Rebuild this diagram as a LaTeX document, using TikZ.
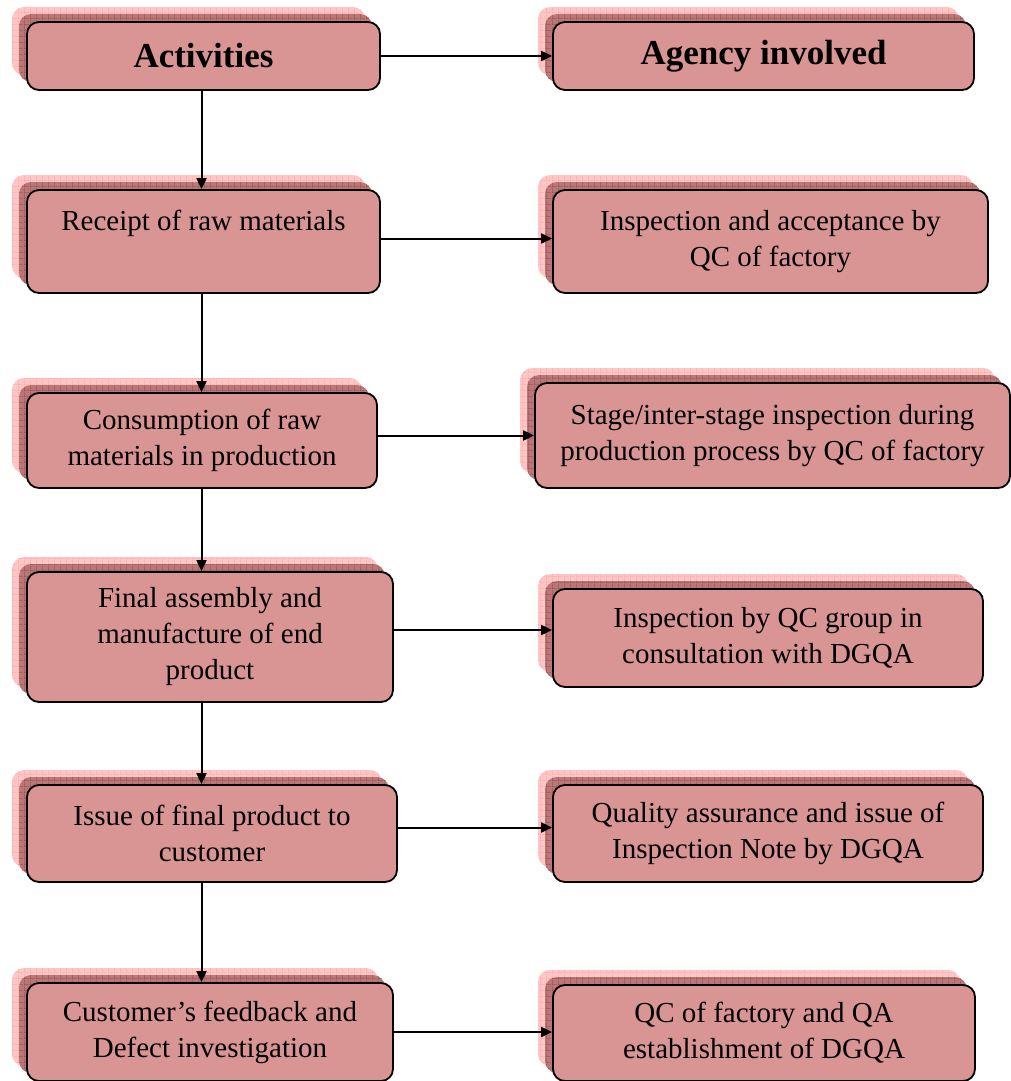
\documentclass[tikz,border=0pt]{standalone}
\usepackage{fontspec}
\setmainfont{Liberation Serif}
\usetikzlibrary{shapes,shadows,patterns,arrows.meta}

\definecolor{boxfill}{HTML}{D99594}
\definecolor{shadelight}{HTML}{FFC6C6}
\definecolor{shadedark}{HTML}{BC7676}

\pgfdeclarepatternformonly{shadegrid}{\pgfpointorigin}{\pgfpoint{6pt}{6pt}}{\pgfpoint{6pt}{6pt}}{
  \pgfsetlinewidth{0.6pt}
  \pgfpathmoveto{\pgfpointorigin}\pgfpathlineto{\pgfpoint{6pt}{0pt}}
  \pgfpathmoveto{\pgfpointorigin}\pgfpathlineto{\pgfpoint{0pt}{6pt}}
  \pgfusepath{stroke}}

\begin{document}
\begin{tikzpicture}[x=1pt,y=-1pt]
			\tikzset{every node/.style={align=center,font=\fontsize{29}{36}\selectfont}}
			\tikzset{head/.style={font=\fontsize{35}{40}\selectfont\bfseries}}
			\tikzset{stagebox/.style={draw,line width=1.8pt,rounded corners=12pt,fill=boxfill,inner sep=2pt,
				general shadow={shadow xshift=-15pt,shadow yshift=15pt,fill=shadelight},
				general shadow={shadow xshift=-15pt,shadow yshift=15pt,pattern=shadegrid,pattern color=red!40},
				general shadow={shadow xshift=-8pt,shadow yshift=8pt,fill=shadedark},
				general shadow={shadow xshift=-8pt,shadow yshift=8pt,pattern=shadegrid,pattern color=shadedark!60!black}}}
			\tikzset{flow/.style={-{Triangle[length=11pt,width=10pt]},line width=2pt}}
			\useasboundingbox (0,0) rectangle (1011,1081);
			% activities column
			\node[stagebox,head,minimum width=353pt,minimum height=68pt] (act) at (203.5,56) {Activities};
			\node[stagebox,minimum width=353pt,minimum height=103pt,text depth=43pt] (receipt) at (203.5,241.5) {Receipt of raw materials};
			\node[stagebox,minimum width=350pt,minimum height=95pt] (consume) at (202,440.5) {Consumption of raw\\materials in production};
			\node[stagebox,minimum width=366pt,minimum height=130pt] (assembly) at (210,637) {Final assembly and\\manufacture of end\\product};
			\node[stagebox,minimum width=370pt,minimum height=97pt] (issue) at (212,833.5) {Issue of final product to\\customer};
			\node[stagebox,minimum width=366pt,minimum height=98pt] (feedback) at (210,1032) {Customer’s feedback and\\Defect investigation};
			% agency column
			\node[stagebox,head,minimum width=421pt,minimum height=68pt] (agency) at (763.5,56) {Agency involved};
			\node[stagebox,minimum width=435pt,minimum height=103pt] (accept) at (770.5,241.5) {Inspection and acceptance by\\QC of factory};
			\node[stagebox,minimum width=475pt,minimum height=105pt] (stageinsp) at (772.5,435.5) {Stage/inter-stage inspection during\\production process by QC of factory};
			\node[stagebox,minimum width=430pt,minimum height=98pt] (qcgroup) at (768,638) {Inspection by QC group in\\consultation with DGQA};
			\node[stagebox,minimum width=430pt,minimum height=97pt] (qanote) at (768,833.5) {Quality assurance and issue of\\Inspection Note by DGQA};
			\node[stagebox,minimum width=422pt,minimum height=96pt] (qcqa) at (764,1033) {QC of factory and QA\\establishment of DGQA};
			% connectors
			\draw[flow] ([xshift=-2pt]act.south) -- ([xshift=-2pt]receipt.north);
			\draw[flow] ([xshift=-2pt]receipt.south) -- ([xshift=-2pt]receipt.south |- consume.north);
			\draw[flow] ([xshift=-2pt]receipt.south |- consume.south) -- ([xshift=-2pt]receipt.south |- assembly.north);
			\draw[flow] ([xshift=-2pt]receipt.south |- assembly.south) -- ([xshift=-2pt]receipt.south |- issue.north);
			\draw[flow] ([xshift=-2pt]receipt.south |- issue.south) -- ([xshift=-2pt]receipt.south |- feedback.north);
			\draw[flow] (act.east) -- (agency.west);
			\draw[flow] ([yshift=3pt]receipt.east) -- ([yshift=3pt]accept.west);
			\draw[flow] (stageinsp.west -| consume.east) -- (stageinsp.west);
			\draw[flow] ([yshift=7pt]assembly.east) -- ([yshift=7pt]assembly.east -| qcgroup.west);
			\draw[flow] ([yshift=6pt]issue.east) -- ([yshift=6pt]qanote.west);
			\draw[flow] (feedback.east) -- (feedback.east -| qcqa.west);
\end{tikzpicture}
\end{document}
